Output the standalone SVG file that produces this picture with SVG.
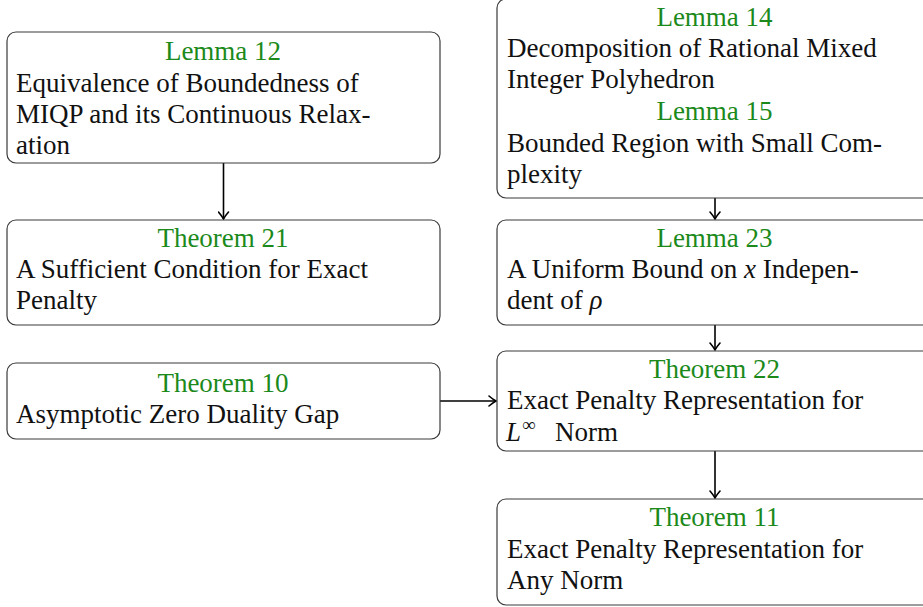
<svg xmlns="http://www.w3.org/2000/svg" width="923" height="607" viewBox="0 0 923 607">
<style>
.box{fill:#fff;stroke:#3a3a3a;stroke-width:1.2}
.t{fill:#111}
.h{fill:#1b8a1b;text-anchor:middle}
.c{fill:none;stroke:#000;stroke-width:1.6}
</style>
<defs>
<marker id="ar" markerUnits="userSpaceOnUse" viewBox="-10 -6 12 12" refX="0" refY="0" markerWidth="12" markerHeight="12" orient="auto">
<path d="M-7,-5 Q-3,-1.5 0,0 Q-3,1.5 -7,5" fill="none" stroke="#000" stroke-width="1.6" stroke-linecap="round"/>
</marker>
</defs>
<g id="connectors">
<line class="c" x1="223.5" y1="163" x2="223.5" y2="219" marker-end="url(#ar)"/>
<line class="c" x1="715" y1="198" x2="715" y2="219" marker-end="url(#ar)"/>
<line class="c" x1="715" y1="325" x2="715" y2="350" marker-end="url(#ar)"/>
<line class="c" x1="715" y1="451" x2="715" y2="498" marker-end="url(#ar)"/>
<line class="c" x1="440" y1="401" x2="496" y2="401" marker-end="url(#ar)"/>
</g>
<g id="lemma12">
<rect class="box" x="7" y="32" width="433" height="131" rx="9"/>
<text class="h" font-family="Liberation Serif" font-size="27" x="223" y="60">Lemma 12</text>
<text class="t" font-family="Liberation Serif" font-size="27" x="16" y="92">Equivalence of Boundedness of</text>
<text class="t" font-family="Liberation Serif" font-size="27" x="16" y="123">MIQP and its Continuous Relax-</text>
<text class="t" font-family="Liberation Serif" font-size="27" x="16" y="154">ation</text>
</g>
<g id="theorem21">
<rect class="box" x="7" y="220" width="433" height="105" rx="9"/>
<text class="h" font-family="Liberation Serif" font-size="27" x="223" y="247">Theorem 21</text>
<text class="t" font-family="Liberation Serif" font-size="27" x="16" y="278">A Sufficient Condition for Exact</text>
<text class="t" font-family="Liberation Serif" font-size="27" x="16" y="309">Penalty</text>
</g>
<g id="theorem10">
<rect class="box" x="7" y="363" width="433" height="76" rx="9"/>
<text class="h" font-family="Liberation Serif" font-size="27" x="223" y="392">Theorem 10</text>
<text class="t" font-family="Liberation Serif" font-size="27" x="16" y="423">Asymptotic Zero Duality Gap</text>
</g>
<g id="lemma14_15">
<rect class="box" x="497" y="-1" width="436" height="199" rx="9"/>
<text class="h" font-family="Liberation Serif" font-size="27" x="714.5" y="26">Lemma 14</text>
<text class="t" font-family="Liberation Serif" font-size="27" x="507" y="57">Decomposition of Rational Mixed</text>
<text class="t" font-family="Liberation Serif" font-size="27" x="507" y="88">Integer Polyhedron</text>
<text class="h" font-family="Liberation Serif" font-size="27" x="714.5" y="120">Lemma 15</text>
<text class="t" font-family="Liberation Serif" font-size="27" x="507" y="152">Bounded Region with Small Com-</text>
<text class="t" font-family="Liberation Serif" font-size="27" x="507" y="183">plexity</text>
</g>
<g id="lemma23">
<rect class="box" x="497" y="220" width="436" height="105" rx="9"/>
<text class="h" font-family="Liberation Serif" font-size="27" x="714.5" y="247">Lemma 23</text>
<text class="t" font-family="Liberation Serif" font-size="27" x="507" y="278">A Uniform Bound on <tspan font-style="italic">x</tspan> Indepen-</text>
<text class="t" font-family="Liberation Serif" font-size="27" x="507" y="309">dent of <tspan font-style="italic">ρ</tspan></text>
</g>
<g id="theorem22">
<rect class="box" x="497" y="351" width="436" height="100" rx="9"/>
<text class="h" font-family="Liberation Serif" font-size="27" x="714.5" y="378">Theorem 22</text>
<text class="t" font-family="Liberation Serif" font-size="27" x="507" y="409">Exact Penalty Representation for</text>
<text class="t" font-family="Liberation Serif" font-size="27" x="506" y="441"><tspan font-style="italic">L</tspan><tspan x="522" dy="-10" font-size="19">∞</tspan><tspan x="555" dy="10">Norm</tspan></text>
</g>
<g id="theorem11">
<rect class="box" x="497" y="499" width="436" height="106" rx="9"/>
<text class="h" font-family="Liberation Serif" font-size="27" x="714.5" y="526">Theorem 11</text>
<text class="t" font-family="Liberation Serif" font-size="27" x="507" y="558">Exact Penalty Representation for</text>
<text class="t" font-family="Liberation Serif" font-size="27" x="507" y="589">Any Norm</text>
</g>
</svg>
